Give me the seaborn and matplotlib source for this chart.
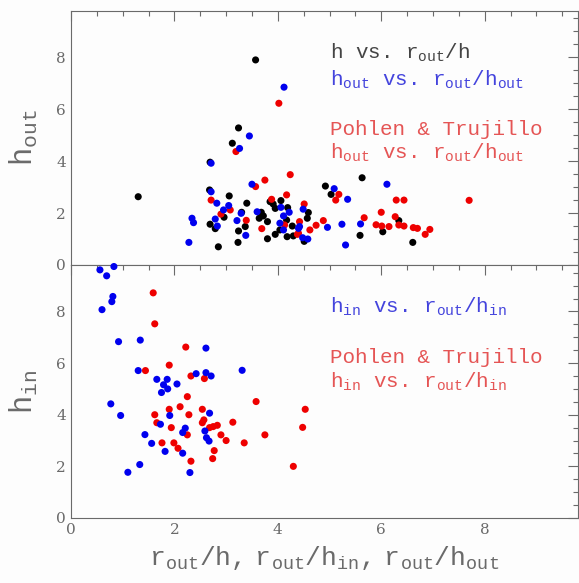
import matplotlib
matplotlib.use("Agg")
import matplotlib.pyplot as plt
from matplotlib.ticker import MultipleLocator
import seaborn as sns
import pandas as pd

# ---- data: top panel ----
top_black_x = [3.57, 3.24, 3.12, 2.69, 1.30, 2.68, 3.06, 3.40, 3.30, 2.96, 2.69, 2.79, 2.85, 3.24,
               3.37, 3.23, 3.68, 3.72, 3.64, 3.80, 3.80, 3.85, 3.91, 3.95, 4.06, 4.19, 4.17, 3.95,
               4.04, 4.18, 4.30, 4.28, 5.63, 4.92, 5.03, 4.59, 4.57, 4.51, 5.59, 6.03, 6.34, 6.61]
top_black_y = [7.90, 5.28, 4.69, 3.96, 2.63, 2.89, 2.66, 2.38, 2.03, 1.84, 1.57, 1.40, 0.70, 1.31,
               1.48, 0.87, 2.03, 1.89, 1.80, 1.67, 1.01, 2.44, 2.35, 2.18, 2.48, 2.21, 1.73, 1.18,
               1.35, 1.09, 1.12, 1.50, 3.36, 3.04, 2.72, 2.02, 1.80, 0.91, 1.14, 1.28, 1.71, 0.87]

top_blue_x = [4.12, 3.45, 3.26, 2.71, 3.50, 2.71, 2.82, 3.05, 2.95, 2.34, 2.37, 2.28, 2.79, 2.83,
              3.21, 3.29, 3.38, 3.60, 4.06, 4.22, 4.11, 4.04, 4.11, 4.40, 6.11, 5.09, 5.35, 4.49,
              4.96, 5.24, 5.60, 5.31, 4.48, 4.58, 4.42]
top_blue_y = [6.85, 4.97, 4.49, 3.92, 3.11, 2.82, 2.38, 2.29, 2.12, 1.80, 1.63, 0.87, 1.77, 1.50,
              1.71, 1.99, 1.14, 2.05, 2.22, 2.03, 1.89, 1.61, 1.35, 1.41, 3.11, 2.94, 2.53, 2.15,
              1.45, 1.57, 1.58, 0.77, 1.05, 1.00, 1.48]

top_red_x = [4.02, 3.19, 4.24, 3.75, 3.57, 4.17, 2.71, 3.88, 3.08, 2.90, 3.39, 3.69, 4.13, 4.38,
             7.70, 5.18, 5.12, 6.29, 6.44, 6.00, 6.27, 4.51, 5.67, 4.88, 4.74, 4.62, 4.42, 4.40,
             5.90, 6.01, 6.15, 6.34, 6.44, 6.62, 6.70, 6.94, 6.85]
top_red_y = [6.23, 4.37, 3.48, 3.27, 3.02, 2.70, 2.50, 2.53, 2.12, 1.96, 1.72, 1.40, 1.54, 1.18,
             2.49, 2.72, 2.50, 2.50, 2.50, 2.03, 1.86, 2.35, 1.82, 1.71, 1.53, 1.35, 1.67, 1.22,
             1.55, 1.50, 1.48, 1.54, 1.50, 1.44, 1.41, 1.37, 1.18]

# ---- data: bottom panel ----
bot_blue_x = [0.56, 0.69, 0.83, 0.81, 0.79, 0.60, 0.92, 1.34, 1.30, 0.77, 0.96, 1.66, 1.86, 1.79,
              1.87, 1.75, 2.05, 2.42, 2.61, 2.61, 2.71, 3.31, 1.91, 1.73, 1.43, 1.56, 1.82, 2.21,
              2.16, 2.16, 2.68, 2.59, 2.62, 2.67, 1.33, 1.10, 2.30]
bot_blue_y = [9.61, 9.38, 9.74, 8.58, 8.38, 8.07, 6.83, 6.89, 5.71, 4.42, 3.97, 5.37, 5.37, 5.16,
              5.00, 4.86, 5.19, 5.59, 6.58, 5.63, 5.50, 5.72, 3.97, 3.63, 3.23, 2.89, 2.58, 3.48,
              3.31, 2.51, 4.06, 3.37, 3.11, 2.98, 2.07, 1.77, 1.76]

bot_red_x = [1.59, 1.62, 2.22, 1.90, 1.44, 2.32, 2.58, 3.58, 2.25, 2.11, 1.62, 1.90, 2.28, 2.54,
             1.66, 1.94, 2.57, 2.54, 2.68, 2.75, 2.83, 3.13, 2.25, 2.90, 3.00, 3.75, 3.35, 1.76,
             1.99, 2.07, 2.77, 2.74, 2.32, 4.30, 4.53, 4.48]
bot_red_y = [8.72, 7.52, 6.62, 5.92, 5.71, 5.50, 5.40, 4.51, 4.70, 4.31, 4.00, 4.21, 4.00, 4.21,
             3.69, 3.50, 3.80, 3.69, 3.50, 3.54, 3.59, 3.71, 3.22, 3.22, 3.00, 3.22, 2.91, 2.91,
             2.91, 2.70, 2.61, 2.30, 2.20, 2.00, 4.21, 3.51]

x_ticks = [0, 2, 4, 6, 8]
y_ticks = [0, 2, 4, 6, 8]

sns.set_style("white")
plt.rcParams["font.family"] = ["DejaVu Serif", "DejaVu Sans"]
plt.rcParams["mathtext.fontset"] = "custom"
plt.rcParams["mathtext.rm"] = "Liberation Mono"
plt.rcParams["mathtext.it"] = "Liberation Mono"
plt.rcParams["mathtext.bf"] = "Liberation Mono:bold"

MONO = ["Liberation Mono", "DejaVu Sans Mono"]
GRAY = "#6a6a6a"
pal = {"black": "#000000", "blue": "#0000ee", "red": "#ee0000"}

fig = plt.figure(figsize=(5.79, 5.83), dpi=100)
fig.patch.set_facecolor("#fdfdfd")
ax_top = fig.add_axes([0.1226, 0.5455, 0.8752, 0.4363])
ax_bot = fig.add_axes([0.1226, 0.1115, 0.8752, 0.4340])


def frame(xs, ys, name):
    return pd.DataFrame({"x": xs, "y": ys, "s": name})


df_top = pd.concat([frame(top_black_x, top_black_y, "black"),
                    frame(top_red_x, top_red_y, "red"),
                    frame(top_blue_x, top_blue_y, "blue")], ignore_index=True)
df_bot = pd.concat([frame(bot_red_x, bot_red_y, "red"),
                    frame(bot_blue_x, bot_blue_y, "blue")], ignore_index=True)

for ax, df in ((ax_top, df_top), (ax_bot, df_bot)):
    sns.scatterplot(data=df, x="x", y="y", hue="s", palette=pal, s=26, linewidth=0,
                    legend=False, ax=ax, clip_on=False, zorder=3)
    ax.set_facecolor("#fdfdfd")
    ax.set_xlim(0, 9.8)
    ax.set_ylim(0, 9.8)
    ax.set_xticks(x_ticks)
    ax.set_yticks(y_ticks)
    ax.xaxis.set_minor_locator(MultipleLocator(0.5))
    ax.yaxis.set_minor_locator(MultipleLocator(0.5))
    ax.tick_params(which="both", direction="in", top=True, right=True, color=GRAY,
                   labelcolor=GRAY, labelsize=11, width=0.8)
    ax.tick_params(which="major", length=7)
    ax.tick_params(which="minor", length=3.5)
    for sp in ax.spines.values():
        sp.set_color(GRAY)
        sp.set_linewidth(0.8)
    ax.set_xlabel("")
    ax.set_ylabel("")

ax_top.tick_params(labelbottom=False)

ax_top.set_ylabel(r"$\mathrm{h_{out}}$", fontsize=22, color=GRAY, labelpad=12)
ax_bot.set_ylabel(r"$\mathrm{h_{in}}$", fontsize=22, color=GRAY, labelpad=12)
ax_bot.set_xlabel(r"$\mathrm{r_{out}/h,\ r_{out}/h_{in},\ r_{out}/h_{out}}$",
                  fontsize=19, color=GRAY, labelpad=5)

FS = 15
TXT_K = "#444444"
TXT_B = "#4444dd"
TXT_R = "#e55555"
kw = dict(fontsize=FS, family=MONO)
ax_top.text(5.0, 7.93, r"h vs. $\mathrm{r_{out}/h}$", color=TXT_K, **kw)
ax_top.text(5.0, 6.90, r"$\mathrm{h_{out}}$ vs. $\mathrm{r_{out}/h_{out}}$", color=TXT_B, **kw)
ax_top.text(5.0, 5.00, "Pohlen & Trujillo", color=TXT_R, **kw)
ax_top.text(5.0, 4.08, r"$\mathrm{h_{out}}$ vs. $\mathrm{r_{out}/h_{out}}$", color=TXT_R, **kw)

ax_bot.text(5.0, 7.96, r"$\mathrm{h_{in}}$ vs. $\mathrm{r_{out}/h_{in}}$", color=TXT_B, **kw)
ax_bot.text(5.0, 6.00, "Pohlen & Trujillo", color=TXT_R, **kw)
ax_bot.text(5.0, 5.03, r"$\mathrm{h_{in}}$ vs. $\mathrm{r_{out}/h_{in}}$", color=TXT_R, **kw)

fig.savefig("out.png", dpi=100, facecolor=fig.get_facecolor())
